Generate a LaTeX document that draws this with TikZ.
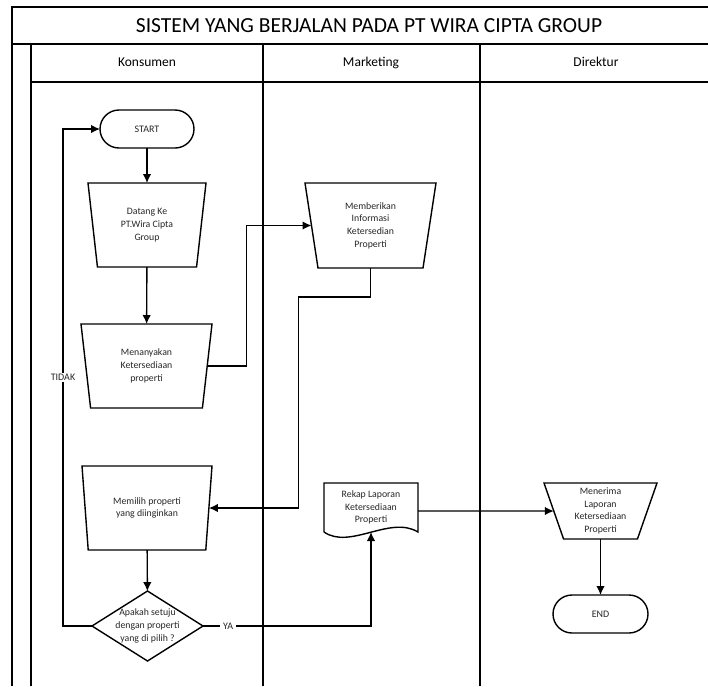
\documentclass[tikz,border=0pt]{standalone}
\usepackage{fontspec}
\setmainfont{Carlito}
\usetikzlibrary{shapes.geometric, arrows, arrows.meta}

\begin{document}
\begin{tikzpicture}[x=1pt, y=-1pt,
    proses/.style={draw, trapezium, shape border rotate=180, trapezium stretches body,
      trapezium angle=75, line width=1.4, inner sep=1pt, outer sep=0pt, align=center,
      text=black!85, font=\fontsize{9.8}{12.7}\selectfont},
    terminal/.style={draw, rectangle, rounded corners=19, minimum width=94, minimum height=38,
      line width=1.4, outer sep=0pt, text=black!85, font=\fontsize{10}{12}\selectfont},
    lajur/.style={text height=9.5, text depth=3, font=\fontsize{13.5}{16}\selectfont},
    garis/.style={line width=1.4},
    arr/.style={->, >={Latex[length=9pt, width=8.5pt]}, line width=1.4}]
  \useasboundingbox (0,0) rectangle (708,686);

  % kerangka swimlane
  \draw[garis] (12,686) -- (12,7) -- (708,7);
  \draw[garis] (12,44) -- (708,44);
  \draw[garis] (31,686) -- (31,44);
  \draw[garis] (31,82) -- (708,82);
  \draw[garis] (263,44) -- (263,686);
  \draw[garis] (480,44) -- (480,686);
  \node[font=\fontsize{21.5}{24}\selectfont] (judul) at (369,26) {SISTEM YANG BERJALAN PADA PT WIRA CIPTA GROUP};
  \node[lajur] (konsumen) at (147,63) {Konsumen};
  \node[lajur] (marketing) at (371,63) {Marketing};
  \node[lajur] (direktur) at (596,63) {Direktur};

  % konsumen
  \node[terminal] (start) at (147,129) {START};
  \node[proses, minimum width=118, minimum height=84] (datang) at (147,225) {Datang Ke\\PT.Wira Cipta\\Group};
  \node[proses, minimum width=131, minimum height=84] (tanya) at (146.5,366) {Menanyakan\\Ketersediaan\\properti};
  \node[proses, minimum width=130, minimum height=84] (pilih) at (147,508) {Memilih properti\\yang diinginkan};
  \node[draw, diamond, aspect=1.6, minimum width=111, minimum height=70, inner sep=0pt, outer sep=0pt,
    line width=1.4,
    label={[align=center, text=black!85, font=\fontsize{9.8}{12.7}\selectfont]center:{Apakah setuju\\dengan properti\\yang di pilih ?}}] (setuju) at (147.5,626) {};

  % marketing
  \node[proses, minimum width=131, minimum height=85] (beri) at (370.5,225.5) {Memberikan\\Informasi\\Ketersedian\\Properti};
  \node[minimum width=94, minimum height=49, inner sep=0pt, outer sep=0pt, align=center,
    text=black!85, font=\fontsize{9.8}{12.7}\selectfont] (rekap) at (371,507.5) {Rekap Laporan\\Ketersediaan\\Properti};
  \draw[garis] (rekap.south west) -- (rekap.north west) -- (rekap.north east) -- (rekap.south east)
    .. controls +(-28,-17) and +(26,18) .. (rekap.south west);

  % direktur
  \node[proses, trapezium angle=68, minimum width=113, minimum height=56] (terima) at (600.5,511) {Menerima\\Laporan\\Ketersediaan\\Properti};
  \node[terminal, minimum width=95] (stop) at (600.5,614) {END};

  % alur
  \draw[arr] (start) -- (datang);
  \draw[arr] (datang) -- (tanya);
  \draw[arr] (tanya.east) -- ++(39,0) |- (beri);
  \draw[arr] (beri.south) -- ++(0,29) -- ++(-72,0) |- (pilih);
  \draw[arr] (pilih) -- (setuju);
  \draw[arr] (setuju.west) -- ++(-29,0) |- node[pos=0.25, fill=white, inner sep=1pt, text=black!85,
    font=\fontsize{10}{12}\selectfont] {TIDAK} (start);
  \draw[arr] (setuju.east) -| node[pos=0.075, fill=white, inner sep=3pt, text=black!85,
    font=\fontsize{10}{12}\selectfont] {YA} (rekap.south);
  \draw[arr] (rekap.east |- terima) -- (terima);
  \draw[arr] (terima) -- (stop);
\end{tikzpicture}
\end{document}
